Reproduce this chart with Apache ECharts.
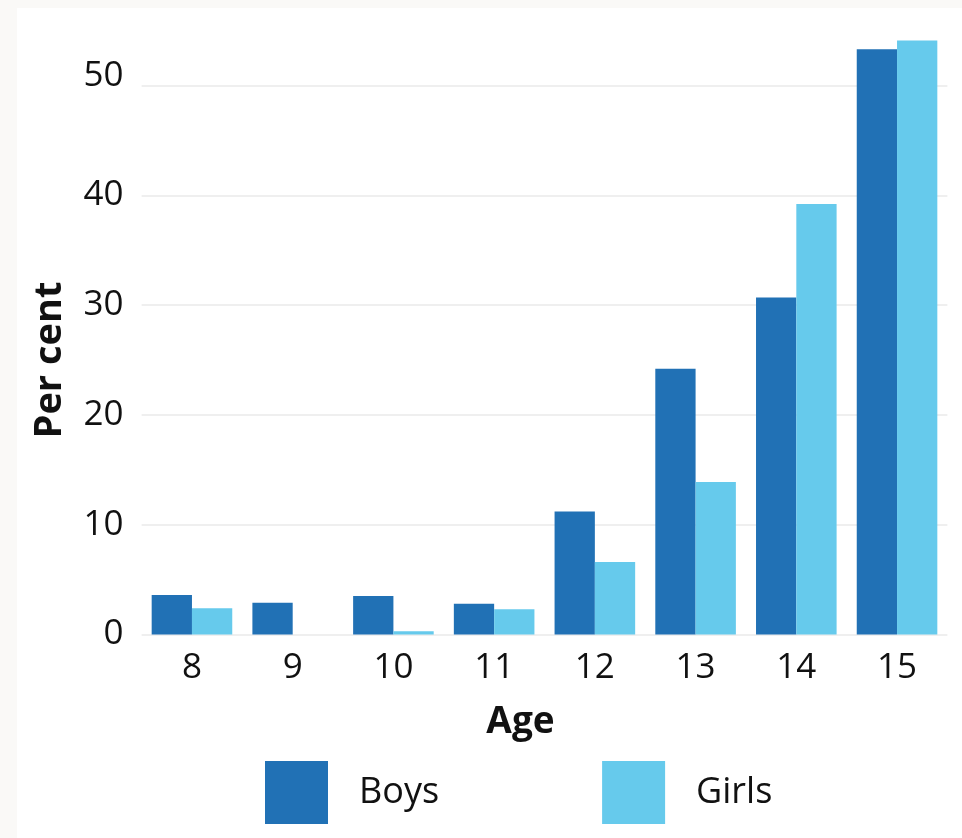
<!DOCTYPE html>
<html>
<head>
<meta charset="utf-8">
<script src="https://cdn.jsdelivr.net/npm/echarts@6/dist/echarts.min.js"></script>
<style>
  html, body { margin: 0; padding: 0; background: #faf9f7; }
  #wrap { position: absolute; left: 17px; top: 8px; width: 945px; height: 830px; background: #ffffff; }
  #chart { position: absolute; left: -17px; top: -8px; width: 962px; height: 838px; }
</style>
</head>
<body>
<div id="wrap"><div id="chart"></div></div>
<script>
const ages = ['8', '9', '10', '11', '12', '13', '14', '15'];
const boys = [3.6, 2.9, 3.5, 2.8, 11.2, 24.2, 30.7, 53.3];
const girls = [2.4, 0, 0.3, 2.3, 6.6, 13.9, 39.2, 54.1];
const yTicks = [0, 10, 20, 30, 40, 50];

const FONT = '"Open Sans", "Noto Sans", sans-serif';
const TXT = '#111111';
const chart = echarts.init(document.getElementById('chart'), null, { renderer: 'canvas' });
chart.setOption({
  backgroundColor: 'transparent',
  animation: false,
  textStyle: { fontFamily: FONT, color: TXT },
  grid: { left: 141.6, right: 14.6, top: 85.5, bottom: 203.5, containLabel: false },
  legend: {
    left: 265, top: 761, padding: 0,
    itemWidth: 63, itemHeight: 63, itemGap: 163,
    icon: 'rect',
    textStyle: { fontFamily: FONT, fontSize: 36, color: TXT, padding: [0, 0, 0, 26] },
    data: ['Boys', 'Girls']
  },
  xAxis: {
    type: 'category',
    data: ages,
    name: 'Age',
    nameLocation: 'middle',
    nameGap: 69,
    nameTextStyle: { fontFamily: FONT, fontSize: 37, fontWeight: 'bold', color: TXT, padding: [0, 48, 0, 0] },
    axisLine: { show: false },
    axisTick: { show: false },
    axisLabel: { fontFamily: FONT, fontSize: 35, color: TXT, margin: 16 }
  },
  yAxis: {
    type: 'value',
    min: yTicks[0],
    max: yTicks[yTicks.length - 1],
    interval: 10,
    name: 'Per cent',
    nameLocation: 'middle',
    nameGap: 72,
    nameTextStyle: { fontFamily: FONT, fontSize: 38, fontWeight: 'bold', color: TXT },
    axisLine: { show: false },
    axisTick: { show: false },
    axisLabel: {
      fontFamily: FONT, fontSize: 35, color: TXT, margin: 18,
      formatter: function (v) { return v === yTicks[yTicks.length - 1] ? '{up|' + v + '}' : String(v); },
      rich: { up: { fontFamily: FONT, fontSize: 35, color: TXT, padding: [0, 0, 18, 0] } }
    },
    splitLine: { lineStyle: { color: '#efefef', width: 2 } }
  },
  series: [
    {
      name: 'Boys', type: 'bar', data: boys, clip: false,
      barGap: '0%', barCategoryGap: '20%',
      itemStyle: { color: '#2171b5' }
    },
    {
      name: 'Girls', type: 'bar', data: girls, clip: false,
      barGap: '0%', barCategoryGap: '20%',
      itemStyle: { color: '#66caec' }
    }
  ]
});
</script>
</body>
</html>
